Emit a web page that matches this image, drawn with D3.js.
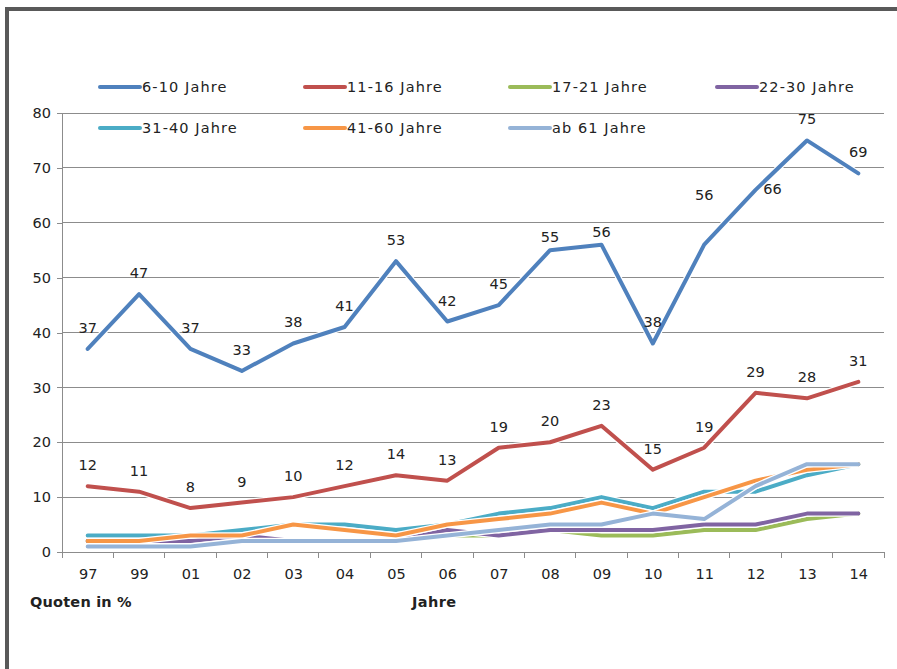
<!DOCTYPE html>
<html><head><meta charset="utf-8">
<script src="https://cdn.jsdelivr.net/npm/d3@7"></script>
<style>body{margin:0;background:#fff}svg{display:block}</style>
</head><body>
<svg id="c" width="897" height="669"></svg>
<script>
const years = ["97","99","01","02","03","04","05","06","07","08","09","10","11","12","13","14"];
const s610 = [37,47,37,33,38,41,53,42,45,55,56,38,56,66,75,69];
const s1116 = [12,11,8,9,10,12,14,13,19,20,23,15,19,29,28,31];
const s1721 = [2,2,2,3,2,2,2,3,3,4,3,3,4,4,6,7];
const s2230 = [2,2,2,3,2,2,2,4,3,4,4,4,5,5,7,7];
const s3140 = [3,3,3,4,5,5,4,5,7,8,10,8,11,11,14,16];
const s4160 = [2,2,3,3,5,4,3,5,6,7,9,7,10,13,15,16];
const s61 = [1,1,1,2,2,2,2,3,4,5,5,7,6,12,16,16];
const seriesNames = ["6-10 Jahre","11-16 Jahre","17-21 Jahre","22-30 Jahre","31-40 Jahre","41-60 Jahre","ab 61 Jahre"];
const seriesColors = ["#4F81BD","#C0504D","#9BBB59","#8064A2","#4BACC6","#F79646","#95B3D7"];
const yTicks = [0,10,20,30,40,50,60,70,80];
const series = [s610,s1116,s1721,s2230,s3140,s4160,s61];
const labelled = [true,true,false,false,false,false,false];

const svg = d3.select("#c");
const FONT = "DejaVu Sans, Verdana, sans-serif";
// frame
svg.append("rect").attr("x",5).attr("y",7).attr("width",892).attr("height",4).attr("fill","#595959");
svg.append("rect").attr("x",5).attr("y",7).attr("width",4).attr("height",662).attr("fill","#595959");

const L=62,R=884,T=113,B=552;
const x = d3.scalePoint().domain(years).range([L,R]).padding(0.5);
const step = x.step();
const y = d3.scaleLinear().domain([0,80]).range([B,T]);

// gridlines
svg.append("g").selectAll("line").data(yTicks).join("line")
  .attr("x1",L).attr("x2",R).attr("y1",d=>y(d)).attr("y2",d=>y(d))
  .attr("stroke","#8c8c8c").attr("stroke-width",1).attr("shape-rendering","crispEdges");

// y axis
const ya = svg.append("g").attr("transform",`translate(${L},0)`)
  .call(d3.axisLeft(y).tickValues(yTicks).tickSize(5).tickPadding(6));
ya.select(".domain").attr("stroke","#8c8c8c").attr("shape-rendering","crispEdges");
ya.selectAll(".tick line").attr("stroke","#8c8c8c").attr("shape-rendering","crispEdges");
ya.selectAll("text").attr("font-family",FONT).attr("font-size","14.5px").attr("fill","#222");

// x axis
const xa = svg.append("g").attr("transform",`translate(0,${B})`)
  .call(d3.axisBottom(x).tickSize(0).tickPadding(17));
xa.select(".domain").attr("stroke","#8c8c8c").attr("shape-rendering","crispEdges");
xa.selectAll("text").attr("font-family",FONT).attr("font-size","14.5px").attr("fill","#222");
svg.append("g").selectAll("line").data(d3.range(years.length+1)).join("line")
  .attr("x1",i=>L+i*step).attr("x2",i=>L+i*step).attr("y1",B).attr("y2",B+6)
  .attr("stroke","#8c8c8c").attr("shape-rendering","crispEdges");

// axis titles
svg.append("text").attr("x",30).attr("y",607).text("Quoten in %")
  .attr("font-family",FONT).attr("font-weight","bold").attr("font-size","14.5px").attr("letter-spacing","0.2px").attr("fill","#222");
svg.append("text").attr("x",412).attr("y",607).text("Jahre")
  .attr("font-family",FONT).attr("font-weight","bold").attr("font-size","14.5px").attr("letter-spacing","0.4px").attr("fill","#222");

// lines
const line = d3.line().x((d,i)=>x(years[i])).y(d=>y(d));
series.forEach((s,k)=>{
  const g = svg.append("g");
  g.append("path").attr("d",line(s)).attr("fill","none").attr("stroke","#fff").attr("stroke-width",6.5).attr("stroke-linejoin","round");
  g.append("path").attr("d",line(s)).attr("fill","none").attr("stroke",seriesColors[k]).attr("stroke-width",4).attr("stroke-linejoin","round").attr("stroke-linecap","round");
});

// data labels (default above the point; a few shifted as in the original)
const shift = {"0-13":[17,20],"0-12":[0,-29],"0-9":[0,8],"0-10":[0,8]};
series.forEach((s,k)=>{
  if(!labelled[k]) return;
  svg.append("g").selectAll("text").data(s).join("text")
    .attr("x",(d,i)=>x(years[i]) + ((shift[k+"-"+i]||[0,0])[0]))
    .attr("y",(d,i)=>y(d)-16 + ((shift[k+"-"+i]||[0,0])[1]))
    .attr("text-anchor","middle").text(d=>d)
    .attr("font-family",FONT).attr("font-size","14.5px").attr("fill","#222");
});

// legend
const legPos = [[100,87],[305,87],[510,87],[717,87],[100,128],[305,128],[510,128]];
seriesNames.forEach((n,k)=>{
  const [lx,ly]=legPos[k];
  svg.append("line").attr("x1",lx).attr("x2",lx+40).attr("y1",ly).attr("y2",ly)
    .attr("stroke",seriesColors[k]).attr("stroke-width",4).attr("stroke-linecap","round");
  svg.append("text").attr("x",lx+42).attr("y",ly+5).text(n)
    .attr("font-family",FONT).attr("font-size","14.5px").attr("letter-spacing","1.1px").attr("fill","#222");
});
</script>
</body></html>
